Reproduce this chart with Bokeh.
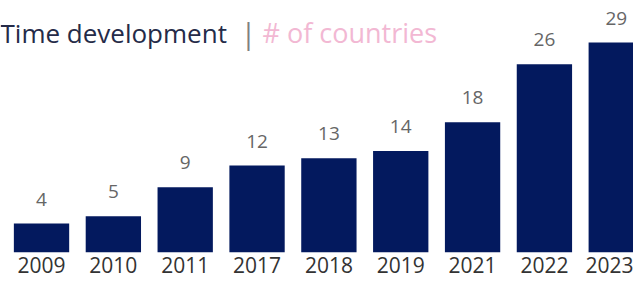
from bokeh.plotting import figure
from bokeh.models import ColumnDataSource, Range1d, FixedTicker, Label, LabelSet
from bokeh.core.properties import value
from bokeh.embed import file_html
from bokeh.resources import INLINE

years = ["2009", "2010", "2011", "2017", "2018", "2019", "2021", "2022", "2023"]
countries = [4, 5, 9, 12, 13, 14, 18, 26, 29]

idx = list(range(len(years)))
src = ColumnDataSource(dict(x=idx, y=countries, lab=[str(v) for v in countries]))

FONT = "Open Sans"

p = figure(width=633, height=285, output_backend="svg", toolbar_location=None,
           x_range=Range1d(-0.571, 8.24), y_range=Range1d(0, 34.8),
           min_border_left=0, min_border_right=0, min_border_top=0, min_border_bottom=33)
p.outline_line_color = None
p.background_fill_color = "white"
p.border_fill_color = "white"
p.xgrid.visible = False
p.ygrid.visible = False
p.yaxis.visible = False

p.vbar(x="x", top="y", width=0.77, bottom=0, source=src,
       fill_color="#03195E", line_color=None)

labels = LabelSet(x="x", y="y", text="lab", source=src, text_align="center",
                  text_baseline="alphabetic", y_offset=18,
                  text_font=value(FONT), text_font_size=value("19px"),
                  text_color=value("#666666"))
p.add_layout(labels)

ax = p.xaxis[0]
ax.ticker = FixedTicker(ticks=idx)
ax.major_label_overrides = {i: y for i, y in zip(idx, years)}
ax.axis_line_color = None
ax.major_tick_line_color = None
ax.minor_tick_line_color = None
ax.major_tick_out = 0
ax.major_tick_in = 0
ax.major_label_standoff = 4
ax.major_label_text_font = FONT
ax.major_label_text_font_size = "21px"
ax.major_label_text_color = "#333333"

t1 = Label(x=0, y=220, x_units="screen", y_units="screen", text="Time development",
           text_font=FONT, text_font_size="26px", text_color="#252B48",
           text_baseline="alphabetic")
sep = Label(x=240, y=220, x_units="screen", y_units="screen", text="|",
            text_font=FONT, text_font_size="29px", text_color="#808080",
            text_baseline="alphabetic")
t2 = Label(x=262, y=220, x_units="screen", y_units="screen", text="# of countries",
           text_font=FONT, text_font_size="27px", text_color="#F2B8D3",
           text_baseline="alphabetic")
for l in (t1, sep, t2):
    p.add_layout(l)

open("out.html", "w").write(file_html(p, INLINE))
